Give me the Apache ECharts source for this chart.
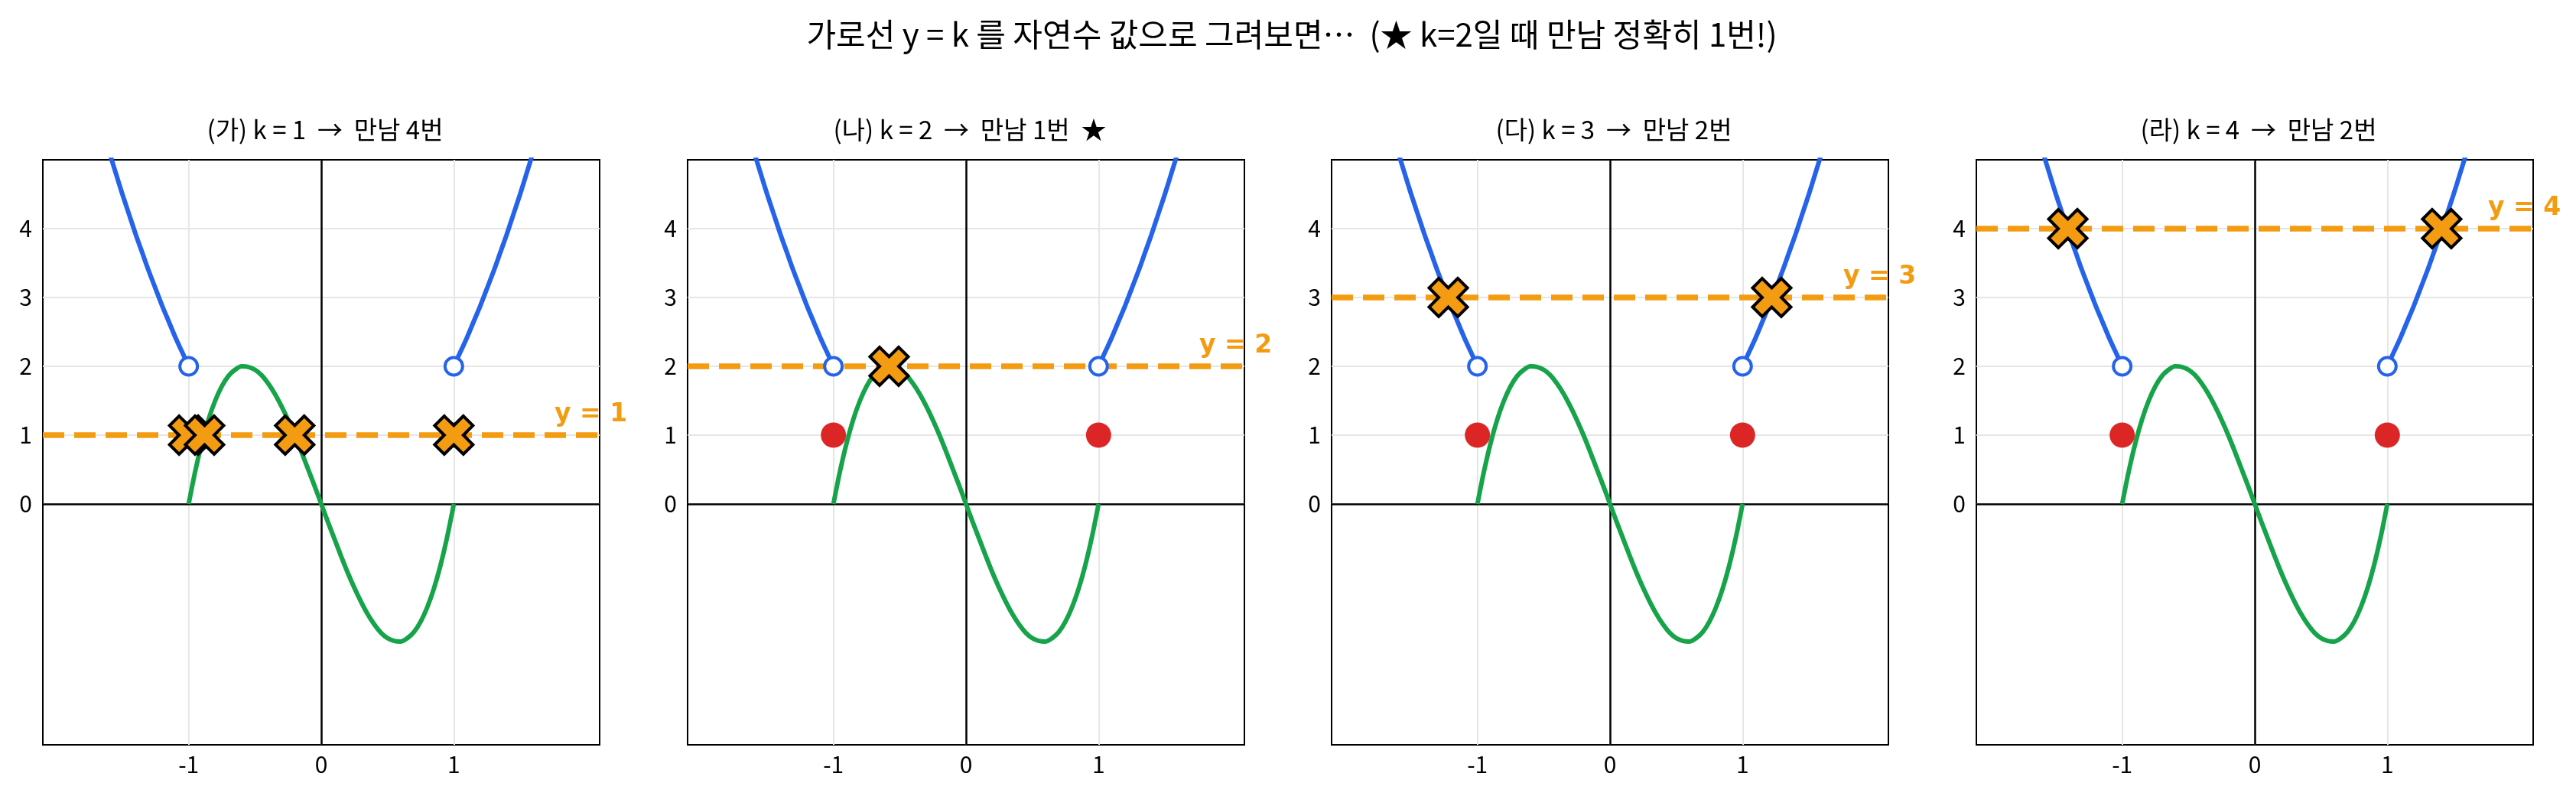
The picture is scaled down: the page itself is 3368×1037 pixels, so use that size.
<!DOCTYPE html>
<html>
<head>
<meta charset="utf-8">
<script src="https://cdn.jsdelivr.net/npm/echarts@6/dist/echarts.min.js"></script>
<style>
  html, body { margin: 0; padding: 0; background: #fff; }
  #chart { width: 3368px; height: 1037px; }
</style>
</head>
<body>
<div id="chart"></div>
<script>
// 데이터
const kValues = [1, 2, 3, 4];
const panelTitles = [
  "(가) k = 1  →  만남 4번",
  "(나) k = 2  →  만남 1번  ★",
  "(다) k = 3  →  만남 2번",
  "(라) k = 4  →  만남 2번"
];
const mainTitle = "가로선 y = k 를 자연수 값으로 그려보면…  (★ k=2일 때 만남 정확히 1번!)";

// 파란 곡선 (|x| > 1)
const blueLeftX = [-1.6, -1.55, -1.5, -1.45, -1.4, -1.35, -1.3, -1.25, -1.2, -1.15, -1.1, -1.05, -1.0];
const blueLeftY = [5.12, 4.81, 4.5, 4.21, 3.92, 3.65, 3.38, 3.13, 2.88, 2.65, 2.42, 2.21, 2.0];
const blueRightX = [1.0, 1.05, 1.1, 1.15, 1.2, 1.25, 1.3, 1.35, 1.4, 1.45, 1.5, 1.55, 1.6];
const blueRightY = [2.0, 2.21, 2.42, 2.65, 2.88, 3.13, 3.38, 3.65, 3.92, 4.21, 4.5, 4.81, 5.12];

// 초록 곡선 (-1 <= x <= 1)
const greenX = [-1, -0.95, -0.9, -0.85, -0.8, -0.75, -0.7, -0.65, -0.6, -0.55, -0.5, -0.45, -0.4, -0.35, -0.3, -0.25, -0.2, -0.15, -0.1, -0.05,
  0, 0.05, 0.1, 0.15, 0.2, 0.25, 0.3, 0.35, 0.4, 0.45, 0.5, 0.55, 0.6, 0.65, 0.7, 0.75, 0.8, 0.85, 0.9, 0.95, 1];
const greenY = [0, 0.48, 0.89, 1.23, 1.50, 1.71, 1.86, 1.95, 2.00, 1.99, 1.95, 1.87, 1.75, 1.60, 1.42, 1.22, 1.00, 0.76, 0.51, 0.26,
  0, -0.26, -0.51, -0.76, -1.00, -1.22, -1.42, -1.60, -1.75, -1.87, -1.95, -1.99, -2.00, -1.95, -1.86, -1.71, -1.50, -1.23, -0.89, -0.48, 0];

const openPoints = [[-1, 2], [1, 2]];   // 빈 원
const filledPoints = [[-1, 1], [1, 1]]; // 채운 점
const meetPoints = [
  [[-1, 1], [-0.88, 1], [-0.2, 1], [1, 1]],
  [[-0.58, 2]],
  [[-1.22, 3], [1.22, 3]],
  [[-1.41, 4], [1.41, 4]]
];
const xTicks = [-1, 0, 1];
const yTicks = [0, 1, 2, 3, 4];
const xRange = [-2.1, 2.1];
const yRange = [-3.5, 5];
const labelX = 1.76;

const BLUE = "#2563eb", GREEN = "#16a34a", ORANGE = "#f39c12", RED = "#dc2626";
const FONT = "Noto Sans CJK KR, sans-serif";
const LABEL_FONT = "DejaVu Sans, sans-serif";
const XMARK = "path://M6 0 L4 2 L2 0 L0 2 L2 4 L0 6 L2 8 L4 6 L6 8 L8 6 L6 4 L8 2 Z";

const gridLefts = [56, 899, 1741, 2584];
const gridW = 728, gridTop = 209, gridH = 765;

const zip = (xs, ys) => xs.map((x, i) => [x, ys[i]]);

const grids = [], xAxes = [], yAxes = [], series = [];
const titles = [{
  text: mainTitle, left: 1684, top: 16, textAlign: "center",
  textStyle: { fontFamily: FONT, fontSize: 42, fontWeight: "normal", color: "#000", lineHeight: 48 }
}];

kValues.forEach((k, i) => {
  grids.push({
    left: gridLefts[i], top: gridTop, width: gridW, height: gridH,
    show: true, borderColor: "#000", borderWidth: 2, backgroundColor: "#fff"
  });
  titles.push({
    text: panelTitles[i], left: gridLefts[i] + gridW / 2, top: 145, textAlign: "center",
    textStyle: { fontFamily: FONT, fontSize: 33, fontWeight: "normal", color: "#000", lineHeight: 38 }
  });
  xAxes.push({
    type: "value", gridIndex: i, min: xRange[0], max: xRange[1],
    axisLine: { show: false },
    axisTick: { show: true, customValues: xTicks, length: 10, lineStyle: { color: "#000", width: 2 } },
    axisLabel: { customValues: xTicks, fontFamily: FONT, fontSize: 30, color: "#000", margin: 11 },
    splitLine: { show: false }
  });
  yAxes.push({
    type: "value", gridIndex: i, min: yRange[0], max: yRange[1],
    axisLine: { show: false },
    axisTick: { show: true, customValues: yTicks, length: 10, lineStyle: { color: "#000", width: 2 } },
    axisLabel: { customValues: yTicks, fontFamily: FONT, fontSize: 30, color: "#000", margin: 14 },
    splitLine: { show: false }
  });

  // 격자선
  series.push({
    type: "line", xAxisIndex: i, yAxisIndex: i, data: [], silent: true, z: 1,
    markLine: {
      silent: true, symbol: "none", label: { show: false }, animation: false, z: 1,
      lineStyle: { color: "#e6e6e6", width: 2, type: "solid" },
      data: xTicks.map(v => ({ xAxis: v })).concat(yTicks.map(v => ({ yAxis: v })))
    }
  });
  // x=0, y=0 축선
  series.push({
    type: "line", xAxisIndex: i, yAxisIndex: i, data: [], silent: true, z: 2,
    markLine: {
      silent: true, symbol: "none", label: { show: false }, animation: false, z: 2,
      lineStyle: { color: "#000", width: 2.5, type: "solid" },
      data: [{ xAxis: 0 }, { yAxis: 0 }]
    }
  });
  // 곡선
  [zip(blueLeftX, blueLeftY), zip(blueRightX, blueRightY)].forEach(d => {
    series.push({
      type: "line", xAxisIndex: i, yAxisIndex: i, data: d, showSymbol: false, smooth: 0.3, z: 3,
      lineStyle: { color: BLUE, width: 6 }, animation: false
    });
  });
  series.push({
    type: "line", xAxisIndex: i, yAxisIndex: i, data: zip(greenX, greenY), showSymbol: false, smooth: 0.3, z: 3,
    lineStyle: { color: GREEN, width: 6 }, animation: false
  });
  // 가로선 y = k
  series.push({
    type: "line", xAxisIndex: i, yAxisIndex: i, data: [[xRange[0], k], [xRange[1], k]], showSymbol: false, z: 4,
    lineStyle: { color: ORANGE, width: 7.5, type: [28, 13], cap: "butt", opacity: 1 }, animation: false
  });
  // 채운 점
  series.push({
    type: "scatter", xAxisIndex: i, yAxisIndex: i, data: filledPoints, symbol: "circle", symbolSize: 33, z: 5,
    itemStyle: { color: RED, opacity: 1 }, animation: false
  });
  // 빈 원
  series.push({
    type: "scatter", xAxisIndex: i, yAxisIndex: i, data: openPoints, symbol: "circle", symbolSize: 23, z: 5,
    itemStyle: { color: "#fff", borderColor: BLUE, borderWidth: 4, opacity: 1 }, animation: false
  });
  // 만나는 점
  series.push({
    type: "scatter", xAxisIndex: i, yAxisIndex: i, data: meetPoints[i], symbol: XMARK, symbolSize: 50, z: 6,
    itemStyle: { color: ORANGE, borderColor: "#000", borderWidth: 4, borderJoin: "miter", opacity: 1 }, animation: false
  });
  // 라벨
  series.push({
    type: "scatter", xAxisIndex: i, yAxisIndex: i, data: [[labelX, k + 0.3]], symbolSize: 0, z: 7, clip: false,
    itemStyle: { opacity: 1 },
    label: {
      show: true, position: "right", distance: 0, formatter: "y = " + k,
      fontFamily: LABEL_FONT, fontSize: 33, fontWeight: "bold", color: ORANGE
    },
    animation: false
  });
});

const myChart = echarts.init(document.getElementById("chart"));
myChart.setOption({
  backgroundColor: "#fff",
  animation: false,
  title: titles,
  grid: grids,
  xAxis: xAxes,
  yAxis: yAxes,
  series: series
});
</script>
</body>
</html>
